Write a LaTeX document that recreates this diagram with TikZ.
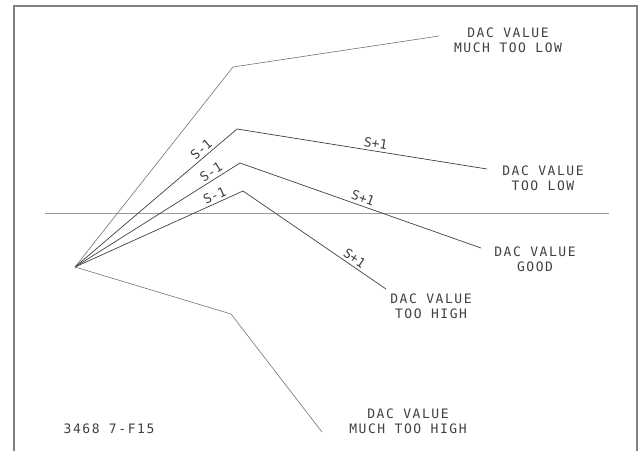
\documentclass[tikz,border=0pt]{standalone}
\usepackage{fontspec}
\newfontfamily\plotfont[LetterSpace=12]{DejaVu Sans Mono}
\newfontfamily\stepfont{DejaVu Sans Mono}
\begin{document}
\begin{tikzpicture}[x=1pt,y=-1pt,
  e/.style={draw=black!75,line width=0.7pt},
  f/.style={e,draw=black!55,line width=0.6pt},
  ax/.style={draw=black!40,line width=1pt},
  lab/.style={font=\plotfont\fontsize{13}{15}\selectfont,align=center,inner sep=1pt,text=black!75},
  s/.style={lab,font=\stepfont\fontsize{13}{15}\selectfont,sloped,above=1.5pt}]
  \useasboundingbox (0,0) rectangle (640,450);
  % frame and reference level
  \draw[ax,line width=1.2pt,draw=black!50] (14,451) |- (637,6) -- (637,451);
  \coordinate (h1) at (45,213); \coordinate (h2) at (609,213);
  \draw[ax] (h1) -- (h2);
  % start point, bends and ends
  \coordinate (o) at (75,267);
  \coordinate (b1) at (233,67);  \coordinate (e1) at (439,36);
  \coordinate (b2) at (237,129); \coordinate (e2) at (487,169);
  \coordinate (b3) at (240,163); \coordinate (e3) at (481,248);
  \coordinate (b4) at (243,191); \coordinate (e4) at (386,289);
  \coordinate (b5) at (231,314); \coordinate (e5) at (322,432);
  \draw[f] (o) -- (b1) -- (e1);
  \draw[e] (o) -- node[s,pos=0.81] {S-1} (b2) -- node[s,pos=0.55] {S+1} (e2);
  \draw[e] (o) -- node[s,pos=0.85] {S-1} (b3) -- node[s,pos=0.50] {S+1} (e3);
  \draw[e] (o) -- node[s,pos=0.85] {S-1} (b4) -- node[s,pos=0.75] {S+1} (e4);
  \draw[f] (o) -- (b5) -- (e5);
  % outcomes
  \node[lab] (mlow) at (508,40) {DAC VALUE\\MUCH TOO LOW};
  \node[lab] (low) at (543,178.5) {DAC VALUE\\TOO LOW};
  \node[lab] (good) at (535,259) {DAC VALUE\\GOOD};
  \node[lab] (high) at (431,306) {DAC VALUE\\TOO HIGH};
  \node[lab] (mhigh) at (408,421) {DAC VALUE\\MUCH TOO HIGH};
  \node[lab] (fig) at (109,429) {3468 7-F15};
\end{tikzpicture}
\end{document}
